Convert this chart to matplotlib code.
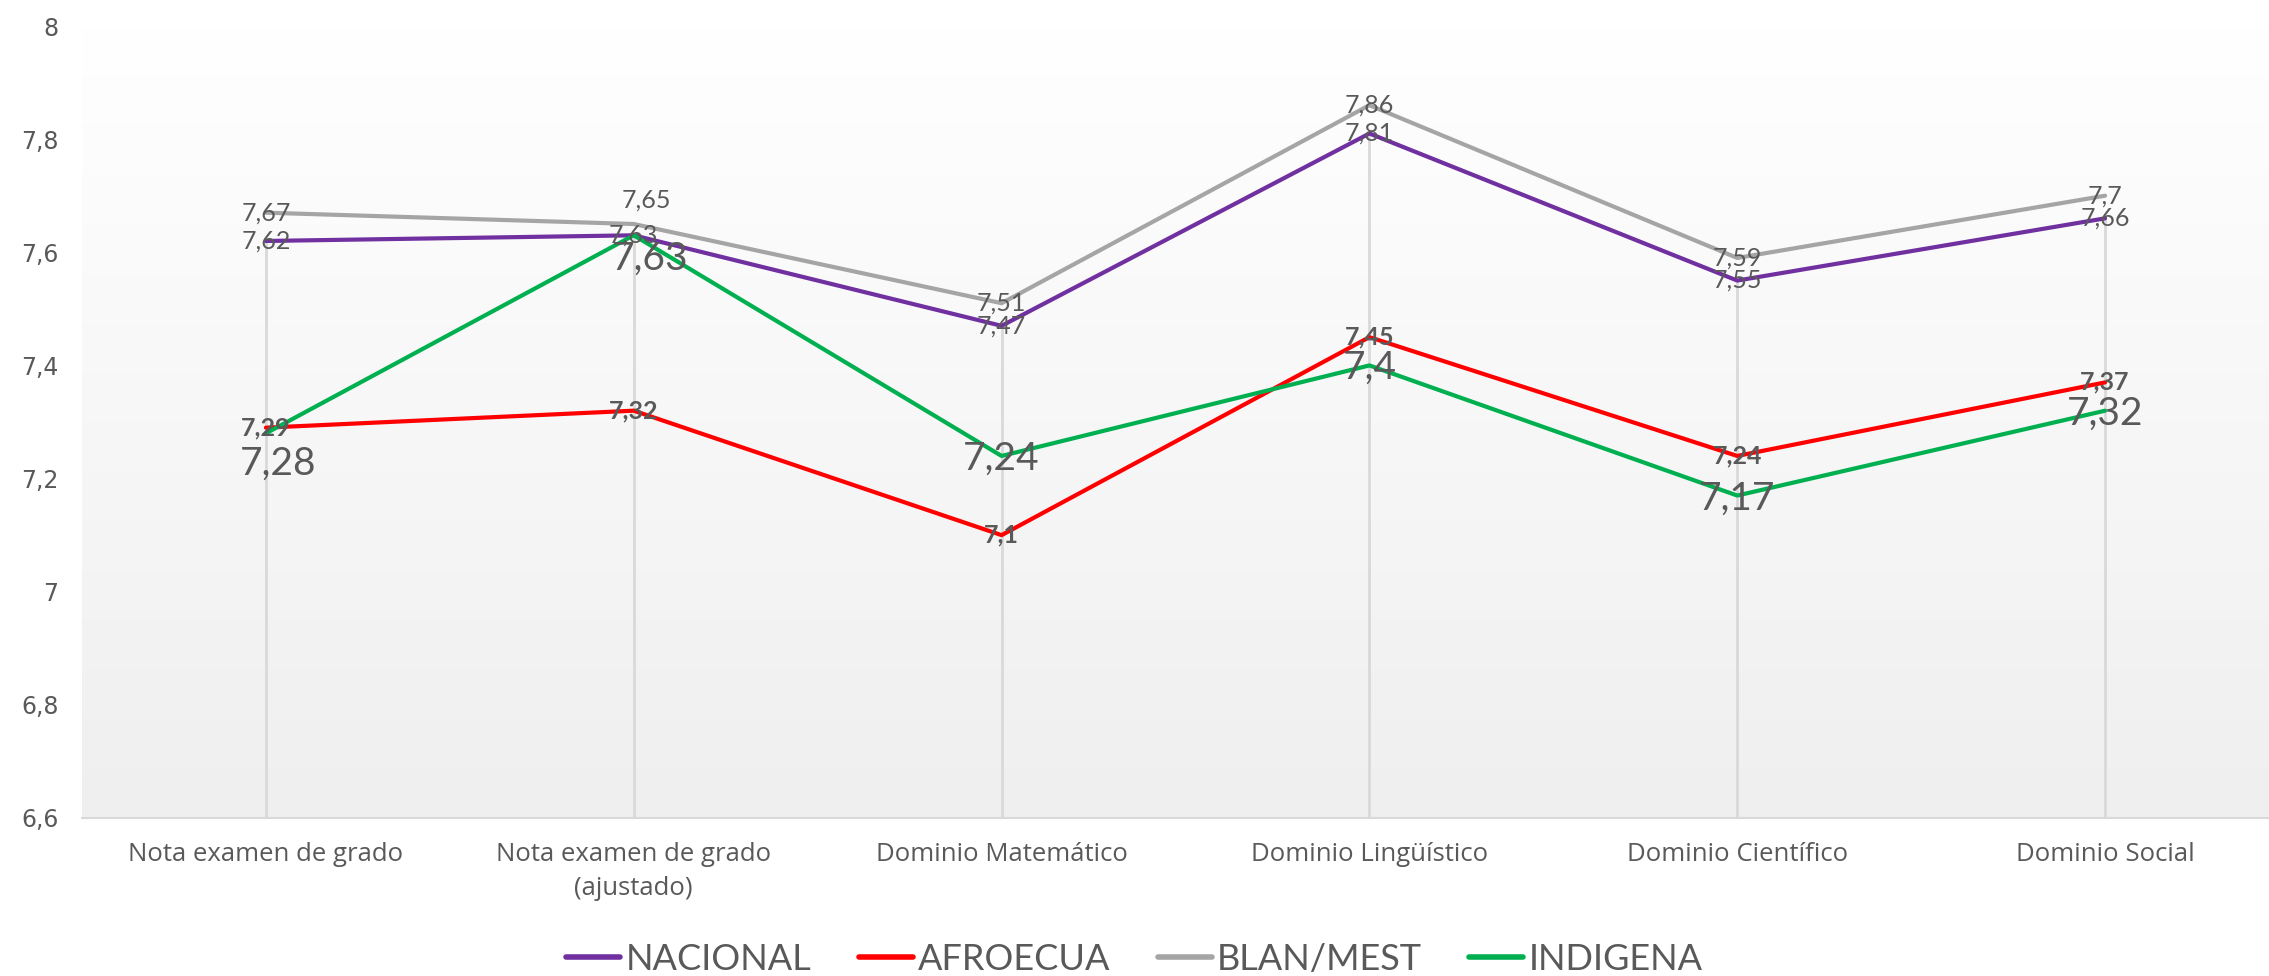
import matplotlib
matplotlib.use("Agg")
import matplotlib.pyplot as plt
import numpy as np
from matplotlib.colors import LinearSegmentedColormap

categories = ["Nota examen de grado", "Nota examen de grado\n(ajustado)", "Dominio Matemático",
              "Dominio Lingüístico", "Dominio Científico", "Dominio Social"]
nacional = [7.62, 7.63, 7.47, 7.81, 7.55, 7.66]
afroecua = [7.29, 7.32, 7.10, 7.45, 7.24, 7.37]
blanmest = [7.67, 7.65, 7.51, 7.86, 7.59, 7.70]
indigena = [7.28, 7.63, 7.24, 7.40, 7.17, 7.32]
series_names = ["NACIONAL", "AFROECUA", "BLAN/MEST", "INDIGENA"]
yticks = [6.6, 6.8, 7.0, 7.2, 7.4, 7.6, 7.8, 8.0]

def fmt(v):
    s = ("%.2f" % v).rstrip("0").rstrip(".")
    return s.replace(".", ",")

plt.rcParams['font.family'] = ['Lato', 'DejaVu Sans']
TXT = "#595959"

fig = plt.figure(figsize=(22.69, 9.76), dpi=100)
ax = fig.add_axes([82/2269, 1-818/976, 2207/2269, (818-26)/976])

x = np.arange(len(categories))
ax.set_xlim(-0.5, len(categories)-0.5)
ax.set_ylim(6.6, 8.0)

# gradient background
cmap = LinearSegmentedColormap.from_list("g", ["#efefef", "#ffffff"])
grad = np.linspace(0, 1, 256).reshape(-1, 1)
ax.imshow(grad, cmap=cmap, aspect="auto", extent=[-0.5, len(categories)-0.5, 6.6, 8.0],
          origin="lower", zorder=0)

# drop lines
ax.vlines(x, 6.6, nacional, colors="#d9d9d9", linewidth=2, zorder=1)

colors = ["#7030A0", "#FF0000", "#A5A5A5", "#00B050"]
data = [nacional, afroecua, blanmest, indigena]
for name, vals, c in zip(series_names, data, colors):
    ax.plot(x, vals, color=c, linewidth=3, label=name, zorder=2, solid_capstyle="round")

# labels
for i, v in enumerate(nacional):
    ax.annotate(fmt(v), (i, v), ha="center", va="center", fontsize=18, color=TXT, zorder=5)
for i, v in enumerate(afroecua):
    ax.annotate(fmt(v), (i, v), ha="center", va="center", fontsize=18, color=TXT,
                fontweight="bold", zorder=5)
gray_off = {1: (9, 17)}
for i, v in enumerate(blanmest):
    off = gray_off.get(i, (0, 0))
    ax.annotate(fmt(v), (i, v), xytext=off, textcoords="offset points", ha="center",
                va="center", fontsize=18, color=TXT, zorder=5)
ind_off = {0: (9, -22), 1: (12, -17)}
for i, v in enumerate(indigena):
    off = ind_off.get(i, (0, -2))
    ax.annotate(fmt(v), (i, v), xytext=off, textcoords="offset points", ha="center",
                va="center", fontsize=28, color=TXT, zorder=5)

for s in ["top", "right", "left"]:
    ax.spines[s].set_visible(False)
ax.spines["bottom"].set_color("#d9d9d9")
ax.spines["bottom"].set_linewidth(1.5)

ax.set_xticks(x)
ax.set_xticklabels(categories, fontsize=18.5, color=TXT, linespacing=1.5, family="Open Sans")
ax.set_yticks(yticks)
ax.set_yticklabels([fmt(t) for t in yticks], fontsize=17, color=TXT, family="DejaVu Sans")
ax.tick_params(axis="x", length=0, pad=17)
ax.tick_params(axis="y", length=0, pad=17)

leg = fig.legend(loc="lower center", bbox_to_anchor=(0.5, -0.033), ncol=4, frameon=False,
                 fontsize=26, handlelength=1.5, handletextpad=0.15, columnspacing=1.3)
for t in leg.get_texts():
    t.set_color(TXT)
for h in leg.get_lines():
    h.set_linewidth(4)

fig.savefig("out.png", dpi=100)
